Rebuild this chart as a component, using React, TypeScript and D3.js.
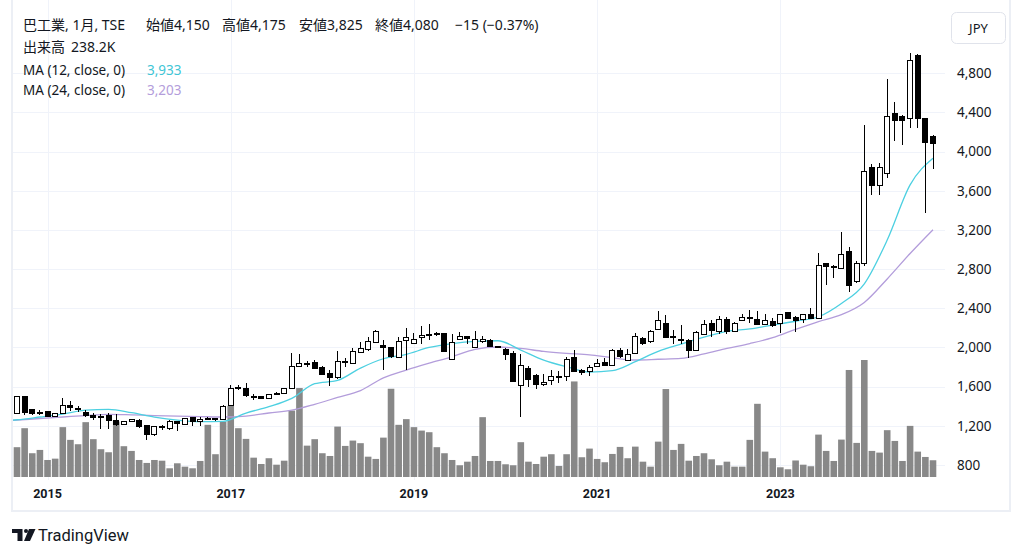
import React from 'react';
import * as d3 from 'd3';

// monthly candles, Sep 2014 .. Sep 2024 (index 0..120)
const opens = [1330,1497,1365,1335,1345,1300,1330,1410,1380,1335, 1310,1290,1310,1255,1212,1240,1255,1200,1110,1185, 1170,1240,1210,1285,1240,1265,1275,1260,1410,1585, 1585,1500,1500,1480,1525,1535,1580,1810,1835,1845, 1800,1735,1690,1860,1840,1950,1975,2055,2025,2000, 1900,2075,2045,2100,2125,2135,2140,1880,2080,2110, 2000,2060,2070,2010,1980,1935,1610,1790,1715,1620, 1665,1705,1700,1895,1760,1755,1810,1845,1815,1965, 1865,1940,2095,2060,2185,2240,2105,2080,2075,1965, 2130,2245,2160,2285,2160,2280,2300,2290,2235,2265, 2240,2355,2305,2290,2340,2300,2855,2825,2810,2980, 2670,2860,3835,3650,3780,4385,4360,4340,4980,4340, 4150];
const highs = [1500,1500,1372,1362,1350,1335,1480,1450,1400,1365, 1330,1320,1330,1320,1250,1270,1265,1210,1200,1210, 1255,1250,1285,1290,1290,1290,1280,1410,1620,1620, 1640,1520,1505,1530,1550,1585,1940,1935,1865,1870, 1810,1770,1965,1890,1990,2060,2110,2175,2080,2010, 2110,2200,2145,2220,2240,2160,2150,2140,2160,2120, 2165,2120,2090,2020,1990,1960,1935,1810,1725,1725, 1770,1760,1900,1975,1780,1820,1880,1890,1980,1990, 1985,2145,2110,2180,2375,2330,2175,2225,2090,2170, 2280,2285,2320,2315,2260,2340,2385,2375,2340,2300, 2345,2365,2320,2345,2400,2965,2860,2845,3180,3025, 2880,4270,3875,3880,4740,4510,4370,5005,5000,4345, 4175];
const lows = [1320,1310,1315,1310,1295,1295,1325,1355,1340,1295, 1260,1165,1165,1200,1205,1235,1180,1060,1100,1160, 1160,1150,1205,1200,1200,1255,1245,1255,1405,1570, 1495,1465,1475,1475,1515,1530,1575,1805,1805,1780, 1715,1610,1680,1800,1835,1945,1960,2050,1770,1890, 1895,1770,2040,2040,2075,2120,1950,1875,2075,2040, 1995,2050,2000,1995,1875,1645,1295,1600,1580,1610, 1620,1640,1660,1745,1720,1710,1800,1815,1810,1895, 1860,1935,2030,2050,2180,2100,2040,2040,1890,1960, 2125,2110,2140,2140,2155,2270,2255,2230,2230,2210, 2145,2290,2160,2245,2290,2295,2640,2705,2800,2570, 2660,2830,3560,3560,3730,4110,4070,4240,4240,3370, 3825];
const closes = [1495,1340,1330,1340,1300,1330,1405,1385,1375,1305, 1290,1300,1250,1212,1245,1260,1195,1115,1195,1190, 1245,1220,1275,1245,1265,1270,1260,1400,1585,1590, 1505,1495,1480,1525,1535,1580,1805,1840,1840,1790, 1720,1695,1855,1845,1955,1985,2060,2165,2000,1905, 2065,2100,2085,2125,2130,2140,1955,2050,2110,2090, 2080,2080,2010,2005,1930,1650,1820,1675,1625,1645, 1700,1700,1880,1755,1740,1795,1840,1820,1965,1905, 1930,2110,2040,2160,2275,2105,2110,2070,1965,2150, 2235,2170,2285,2160,2250,2305,2310,2235,2280,2220, 2340,2300,2280,2335,2300,2840,2825,2830,2945,2630, 2860,3795,3650,3835,4355,4315,4315,4935,4340,4095, 4080];
// volume, thousands of shares
const volumes = [424,694,338,385,242,261,709,528,466,780, 538,395,352,789,438,371,242,200,242,232, 124,195,147,124,228,742,324,789,1012,694, 542,275,185,267,175,232,945,1265,446,538, 338,299,717,442,518,481,289,257,560,1255, 742,823,709,660,637,424,338,242,167,218, 299,851,228,228,181,167,495,218,185,289, 324,157,324,1359,281,404,257,210,328,428, 267,432,218,147,503,1251,385,471,232,299, 338,252,167,218,147,147,528,1041,361,267, 138,110,235,175,153,603,371,228,532,1522, 485,1664,371,347,666,513,228,727,361,285, 238.2];

// moving averages read every 3 bars, starting at bar -3
const maIndex = d3.range(-3, 121, 3);
const ma12 = [1245,1262,1290,1320,1360,1368,1335,1290,1258,1242,1245,1330,1395,1480,1630,1664,1790,1885,1930,2000,2040,2063,2069,1974,1872,1804,1748,1763,1855,1960,2035,2105,2165,2190,2229,2268,2314,2450,2650,3097,3660,3933];
const ma24 = [1245,1258,1275,1290,1305,1317,1312,1305,1300,1295,1290,1300,1331,1360,1420,1490,1560,1690,1770,1840,1905,1981,2005,1990,1960,1940,1925,1895,1872,1880,1889,1935,1990,2040,2100,2185,2265,2335,2460,2700,2960,3203];

const priceTicks = [800,1200,1600,2000,2400,2800,3200,3600,4000,4400,4800];
const yearLabels = ['2015','2017','2019','2021','2023'];
const yearBars = [4,28,52,76,100];

const W = 1024, H = 557;
const plotL = 12, plotR = 945, paneB = 480, frameB = 511, frameR = 1010;
const FONT = "'Noto Sans', 'Noto Sans CJK JP', sans-serif";
const AXISFONT = "Roboto, 'Noto Sans', sans-serif";
const TXT = '#131722';
const GRID = '#f0f3fa';
const CYAN = '#4dd0e1';
const PURPLE = '#b39ddb';

const x = d3.scaleLinear().domain([0, 120]).range([17, 933]);
const y = d3.scaleLinear().domain([800, 4800]).range([465, 73.3]);
const v = d3.scaleLinear().domain([0, 1664]).range([477, 360]);
const fmt = d3.format(',');

const maLine = d3.line<number>()
  .x((d, i) => x(maIndex[i]))
  .y(d => y(d))
  .curve(d3.curveMonotoneX);

export default function App() {
  return (
    <div style={{ position: 'absolute', left: 0, top: 0 }}>
      <svg width={W} height={H} style={{ display: 'block', background: '#fff' }}>
        <defs>
          <clipPath id="plot-clip">
            <rect x={plotL} y={0} width={plotR - plotL} height={paneB} />
          </clipPath>
        </defs>

        {/* grid */}
        {priceTicks.map(t => (
          <line key={t} x1={plotL} x2={plotR} y1={Math.round(y(t)) + 0.5} y2={Math.round(y(t)) + 0.5} stroke={GRID} />
        ))}
        {yearBars.map(b => (
          <line key={b} x1={Math.round(x(b)) + 0.5} x2={Math.round(x(b)) + 0.5} y1={0} y2={paneB} stroke={GRID} />
        ))}

        <g clipPath="url(#plot-clip)">
          {/* volume */}
          {volumes.map((vol, i) => (
            <rect key={i} x={x(i) - 3.3} y={v(vol)} width={6.6} height={v(0) - v(vol)} fill="#888888" />
          ))}

          {/* moving averages */}
          <path d={maLine(ma24) || ''} fill="none" stroke={PURPLE} strokeWidth={1.3} />
          <path d={maLine(ma12) || ''} fill="none" stroke={CYAN} strokeWidth={1.3} />

          {/* candles */}
          {closes.map((c, i) => {
            const o = opens[i];
            const up = c >= o;
            const cx = x(i);
            const top = y(Math.max(o, c));
            const bot = y(Math.min(o, c));
            return (
              <g key={i} shapeRendering="crispEdges">
                <line x1={cx} x2={cx} y1={y(highs[i])} y2={y(lows[i])} stroke="#000" strokeWidth={1} />
                <rect x={cx - 2.5} y={top} width={5} height={Math.max(bot - top, 1)}
                  fill={up ? '#fff' : '#000'} stroke="#000" strokeWidth={1} />
              </g>
            );
          })}
        </g>

        {/* frame */}
        <line x1={plotL} x2={plotL} y1={0} y2={frameB} stroke="#eceff5" strokeWidth={2} />
        <line x1={frameR} x2={frameR} y1={0} y2={frameB} stroke="#eceff5" strokeWidth={2} />
        <line x1={plotL - 1} x2={frameR + 1} y1={frameB} y2={frameB} stroke="#eceff5" strokeWidth={2} />

        {/* price axis */}
        {priceTicks.map(t => (
          <text key={t} x={957} y={y(t)} dy="0.35em" fontFamily={FONT} fontSize={13.5} fill={TXT}>{fmt(t)}</text>
        ))}
        <rect x={951.5} y={12.5} width={54} height={31} rx={5} fill="#fff" stroke="#e0e3eb" />
        <text x={978.5} y={28} dy="0.35em" textAnchor="middle" fontFamily={FONT} fontSize={13} fill={TXT}>JPY</text>

        {/* time axis */}
        {yearBars.map((b, k) => (
          <text key={b} x={x(b)} y={494} dy="0.35em" textAnchor="middle" fontFamily={AXISFONT} fontSize={12.5}
            fontWeight={700} fill={TXT}>{yearLabels[k]}</text>
        ))}

        {/* legend */}
        <g fontFamily={FONT} fill={TXT}>
          <text y={30} fontSize={14}>
            <tspan x={23}>巴工業, 1月, TSE</tspan>
            <tspan x={146}>始値4,150</tspan>
            <tspan x={222}>高値4,175</tspan>
            <tspan x={299}>安値3,825</tspan>
            <tspan x={375}>終値4,080</tspan>
            <tspan x={455}>−15 (−0.37%)</tspan>
          </text>
          <text y={51.5} fontSize={14}>
            <tspan x={23}>出来高</tspan>
            <tspan x={71}>238.2K</tspan>
          </text>
          <text y={74.5} fontSize={13.5}>
            <tspan x={23}>MA (12, close, 0)</tspan>
            <tspan x={147} fill="#3fc6d6">3,933</tspan>
          </text>
          <text y={95} fontSize={13.5}>
            <tspan x={23}>MA (24, close, 0)</tspan>
            <tspan x={147} fill={PURPLE}>3,203</tspan>
          </text>
        </g>

        {/* TradingView mark */}
        <g fill={TXT}>
          <path d="M12,529 H22.5 V541 H17.5 V533 H12 Z" />
          <circle cx={26} cy={531} r={2} />
          <path d="M29,529 H35.5 L30,541 H24 Z" />
          <text x={38} y={535} dy="0.35em" fontFamily={AXISFONT} fontSize={16.5}>TradingView</text>
        </g>
      </svg>
    </div>
  );
}
